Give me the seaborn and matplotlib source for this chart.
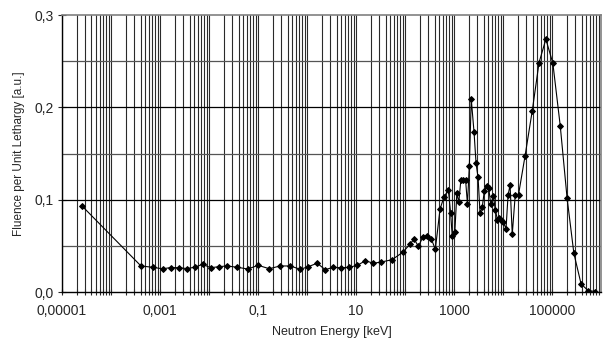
import matplotlib
matplotlib.use("Agg")
import matplotlib.pyplot as plt
import numpy as np
import pandas as pd
import seaborn as sns
from matplotlib.ticker import FixedLocator, FuncFormatter, NullFormatter

# neutron energy [keV]
energy = [
    2.53e-5, 4.09e-4, 7.03e-4, 1.135e-3, 1.65e-3, 2.44e-3, 3.51e-3, 5.1e-3,
    7.43e-3, 1.08e-2, 1.58e-2, 2.3e-2, 3.79e-2, 6.17e-2, 0.101, 0.170,
    0.281, 0.456, 0.729, 1.06, 1.61, 2.35, 3.44, 5.01, 7.3, 10.6, 15.6,
    22.5, 32.8, 54.3, 89.8, 126, 153, 187, 230, 285, 344, 415, 518, 619,
    765, 849, 919, 1038, 1140, 1253, 1377, 1527, 1718, 1877, 2053, 2244,
    2560, 2812, 3090, 3395, 3764, 4150, 4645, 5105, 5610, 6340, 6966,
    7655, 8400, 9230, 10140, 11510, 12650, 13900, 15410, 17750, 20700,
    28100, 39400, 54300, 74700, 103800, 147000, 202000, 278500, 391000,
    543000, 755000,
]
# fluence per unit lethargy [a.u.]
fluence = [
    0.0935, 0.0282, 0.0268, 0.0251, 0.0265, 0.0263, 0.0254, 0.0268,
    0.0300, 0.0263, 0.0274, 0.0282, 0.0268, 0.0249, 0.0289, 0.0252,
    0.0282, 0.0282, 0.0246, 0.0274, 0.0312, 0.0242, 0.0268, 0.0262,
    0.0268, 0.0289, 0.0339, 0.0311, 0.0325, 0.0350, 0.0430, 0.0518,
    0.0574, 0.0495, 0.0592, 0.0610, 0.0574, 0.0462, 0.0899, 0.1025,
    0.1108, 0.0861, 0.0606, 0.0652, 0.1067, 0.0975, 0.1213, 0.1208,
    0.1216, 0.0953, 0.1370, 0.2090, 0.1729, 0.1393, 0.1241, 0.0852,
    0.0921, 0.1094, 0.1148, 0.1123, 0.0950, 0.1043, 0.0888, 0.0785,
    0.0801, 0.0785, 0.0756, 0.0686, 0.1050, 0.1157, 0.0625, 0.1056,
    0.1056, 0.1473, 0.1962, 0.2485, 0.2738, 0.2477, 0.1798, 0.1023,
    0.0419, 0.0087, 0.0016, 0.0005,
]

x_labels = ["0,00001", "0,001", "0,1", "10", "1000", "100000"]

df = pd.DataFrame({"energy": energy, "fluence": fluence})

sns.set_style("white")
plt.rcParams["font.family"] = ["Liberation Sans", "DejaVu Sans"]

fig = plt.figure(figsize=(6.03, 3.45), dpi=100)
ax = fig.add_axes([0.1028, 0.1536, 0.894, 0.8029])

ax.set_xscale("log")
ax.set_xlim(1e-5, 1e6)
ax.set_ylim(0, 0.3)

# grid lines, excel style
decades = np.arange(-5, 6)
minor = [m * 10.0 ** d for d in decades for m in range(1, 10)
         if m * 10.0 ** d <= 1e6]
for val in minor:
    ax.axvline(val, color="#2a2a2a", lw=0.8, zorder=1)
for yv in [0.05, 0.15, 0.25]:
    ax.axhline(yv, color="#555555", lw=0.9, zorder=1)
for yv in [0.1, 0.2]:
    ax.axhline(yv, color="black", lw=0.9, zorder=1)

sns.lineplot(data=df, x="energy", y="fluence", ax=ax, color="black",
             lw=0.8, marker="D", markersize=3.0, markeredgecolor="black",
             estimator=None, sort=False, zorder=3)

ax.xaxis.set_major_locator(FixedLocator([1e-5, 1e-3, 1e-1, 1e1, 1e3, 1e5]))
ax.xaxis.set_major_formatter(FuncFormatter(
    lambda v, p: x_labels[int(round((np.log10(v) + 5) / 2))]))
ax.xaxis.set_minor_locator(FixedLocator(minor))
ax.xaxis.set_minor_formatter(NullFormatter())
ax.set_yticks([0, 0.1, 0.2, 0.3])
ax.yaxis.set_major_formatter(FuncFormatter(lambda v, p: f"{v:.1f}".replace(".", ",")))

ax.tick_params(axis="x", which="both", direction="inout", length=5,
               width=0.8, labelsize=10, pad=6, bottom=True)
ax.tick_params(axis="y", which="major", direction="inout", length=6,
               width=0.8, labelsize=10, pad=3, left=True)

for side in ["top", "right"]:
    ax.spines[side].set_color("#808080")
    ax.spines[side].set_linewidth(1.2)
for side in ["left", "bottom"]:
    ax.spines[side].set_color("black")
    ax.spines[side].set_linewidth(1.0)

ax.set_xlabel("Neutron Energy [keV]", fontsize=9, labelpad=6)
ax.set_ylabel("Fluence per Unit Lethargy [a.u.]", fontsize=8.5, labelpad=7)

fig.savefig("out.png", dpi=100)
